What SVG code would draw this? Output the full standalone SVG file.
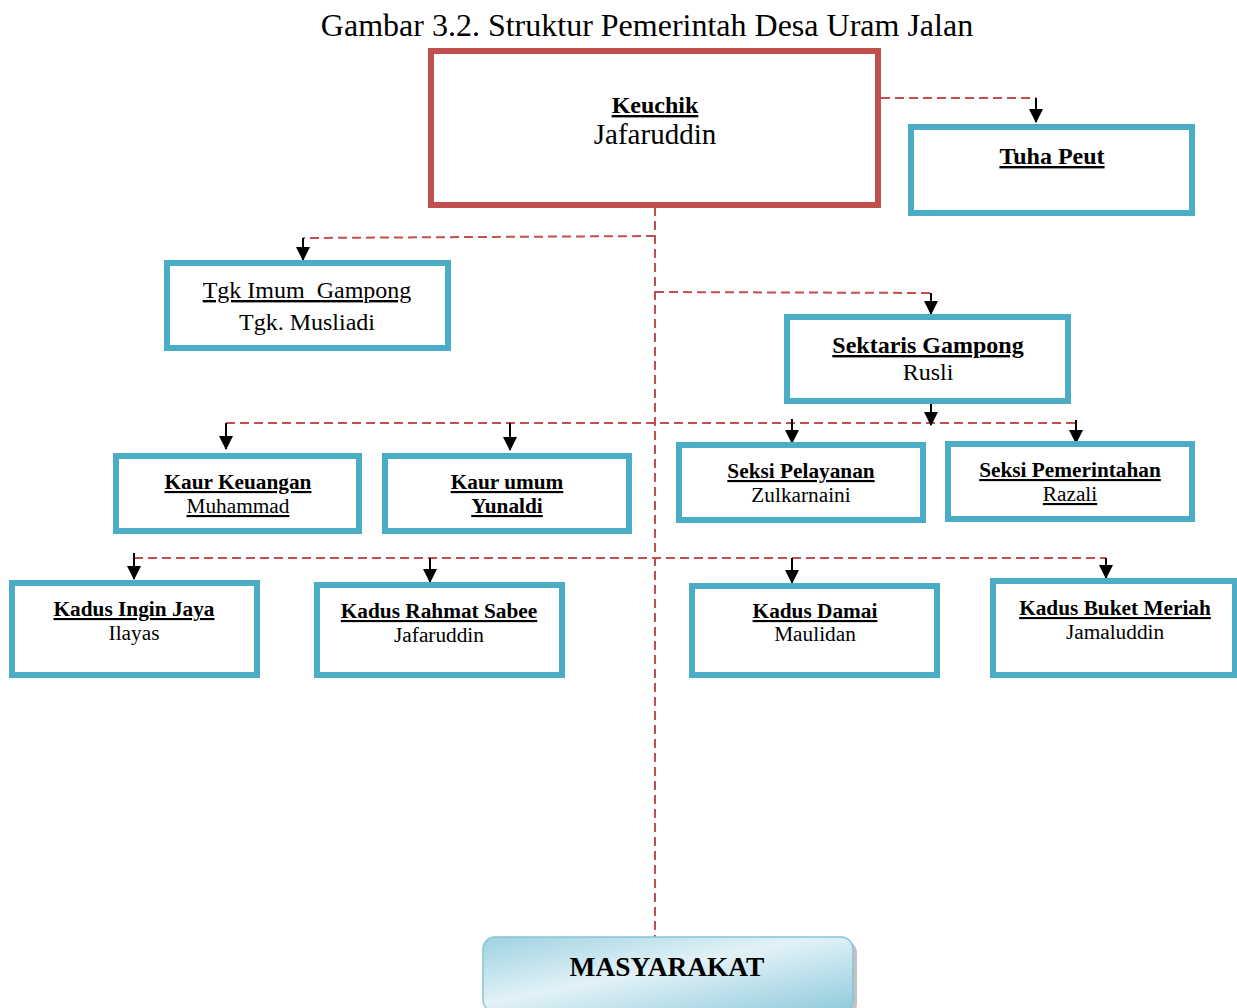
<svg xmlns="http://www.w3.org/2000/svg" width="1237" height="1008" viewBox="0 0 1237 1008">
<defs>
<style>
.t{font-family:"Liberation Serif","Times New Roman",serif;fill:#000;text-anchor:middle}
.b{font-weight:bold}
.u{text-decoration:underline}
.s{font-size:21.3px}
.box{fill:#fff;stroke:#4BACC6;stroke-width:6}
.red{fill:#fff;stroke:#C0504D;stroke-width:6}
.dash{fill:none;stroke:#C0504D;stroke-width:2;stroke-dasharray:9 5}
.arr{stroke:#000;stroke-width:2;fill:none;marker-end:url(#ah)}
</style>
<marker id="ah" markerUnits="userSpaceOnUse" markerWidth="14" markerHeight="14" refX="13" refY="7" orient="auto" viewBox="0 0 14 14">
<path d="M0,0 L14,7 L0,14 z" fill="#000"/>
</marker>
<linearGradient id="mg" x1="0" y1="0" x2="1" y2="1">
<stop offset="0" stop-color="#9ED2E0"/>
<stop offset="0.45" stop-color="#E2F2F7"/>
<stop offset="1" stop-color="#8FCADB"/>
</linearGradient>
</defs>
<rect width="1237" height="1008" fill="#fff"/>
<text class="t" x="647" y="36" font-size="32">Gambar 3.2. Struktur Pemerintah Desa Uram Jalan</text>

<g id="connectors">
<path class="dash" d="M655,207 V937"/>
<path class="dash" d="M881,98 H1036"/>
<path class="dash" d="M655,236 L303,238"/>
<path class="dash" d="M655,292 L931,293"/>
<path class="dash" d="M226,423 H1076"/>
<path class="dash" d="M134,558 H1106"/>
<path class="arr" d="M1036,98 V122"/>
<path class="arr" d="M303,238 V260"/>
<path class="arr" d="M931,293 V314"/>
<path class="arr" d="M931,404 V425"/>
<path class="arr" d="M226,423 V449"/>
<path class="arr" d="M510,423 V450"/>
<path class="arr" d="M792,419 V443"/>
<path class="arr" d="M1076,420 V443"/>
<path class="arr" d="M134,553 V579"/>
<path class="arr" d="M430,558 V582"/>
<path class="arr" d="M792,558 V583"/>
<path class="arr" d="M1106,558 V578"/>
</g>

<g id="keuchik">
<rect class="red" x="431" y="51" width="447" height="154"/>
<text class="t b u" x="655" y="113" font-size="24">Keuchik</text>
<text class="t" x="655" y="144" font-size="29">Jafaruddin</text>
</g>
<g id="tuha-peut">
<rect class="box" x="911" y="127" width="281" height="86"/>
<text class="t b u" x="1052" y="164" font-size="24">Tuha Peut</text>
</g>
<g id="tgk-imum">
<rect class="box" x="167" y="263" width="281" height="85"/>
<text class="t u" x="307" y="298" font-size="24" xml:space="preserve">Tgk Imum  Gampong</text>
<text class="t" x="307" y="330" font-size="24">Tgk. Musliadi</text>
</g>
<g id="sektaris">
<rect class="box" x="787" y="317" width="281" height="84"/>
<text class="t b u" x="928" y="353" font-size="24">Sektaris Gampong</text>
<text class="t" x="928" y="380" font-size="24">Rusli</text>
</g>
<g id="kaur-keuangan">
<rect class="box" x="116" y="456" width="243" height="75"/>
<text class="t b u s" x="238" y="489">Kaur Keuangan</text>
<text class="t u s" x="238" y="513">Muhammad</text>
</g>
<g id="kaur-umum">
<rect class="box" x="385" y="456" width="244" height="75"/>
<text class="t b u s" x="507" y="489">Kaur umum</text>
<text class="t b u s" x="507" y="513">Yunaldi</text>
</g>
<g id="seksi-pelayanan">
<rect class="box" x="679" y="445" width="244" height="75"/>
<text class="t b u s" x="801" y="478">Seksi Pelayanan</text>
<text class="t s" x="801" y="502">Zulkarnaini</text>
</g>
<g id="seksi-pemerintahan">
<rect class="box" x="948" y="444" width="244" height="75"/>
<text class="t b u s" x="1070" y="477">Seksi Pemerintahan</text>
<text class="t u s" x="1070" y="501">Razali</text>
</g>
<g id="kadus-ingin-jaya">
<rect class="box" x="12" y="583" width="245" height="92"/>
<text class="t b u s" x="134" y="616">Kadus Ingin Jaya</text>
<text class="t s" x="134" y="640">Ilayas</text>
</g>
<g id="kadus-rahmat-sabee">
<rect class="box" x="317" y="585" width="245" height="90"/>
<text class="t b u s" x="439" y="618">Kadus Rahmat Sabee</text>
<text class="t s" x="439" y="642">Jafaruddin</text>
</g>
<g id="kadus-damai">
<rect class="box" x="692" y="586" width="245" height="89"/>
<text class="t b u s" x="815" y="618">Kadus Damai</text>
<text class="t s" x="815" y="641">Maulidan</text>
</g>
<g id="kadus-buket-meriah">
<rect class="box" x="993" y="581" width="242" height="94"/>
<text class="t b u s" x="1115" y="615">Kadus Buket Meriah</text>
<text class="t s" x="1115" y="639">Jamaluddin</text>
</g>
<g id="masyarakat">
<rect x="487" y="941" width="370" height="75" rx="12" fill="#9A9A9A" opacity="0.6"/>
<rect x="483" y="937" width="370" height="75" rx="12" fill="url(#mg)" stroke="#86C4D5" stroke-width="1.5"/>
<text class="t b" x="667" y="976" font-size="27.4">MASYARAKAT</text>
</g>
</svg>
